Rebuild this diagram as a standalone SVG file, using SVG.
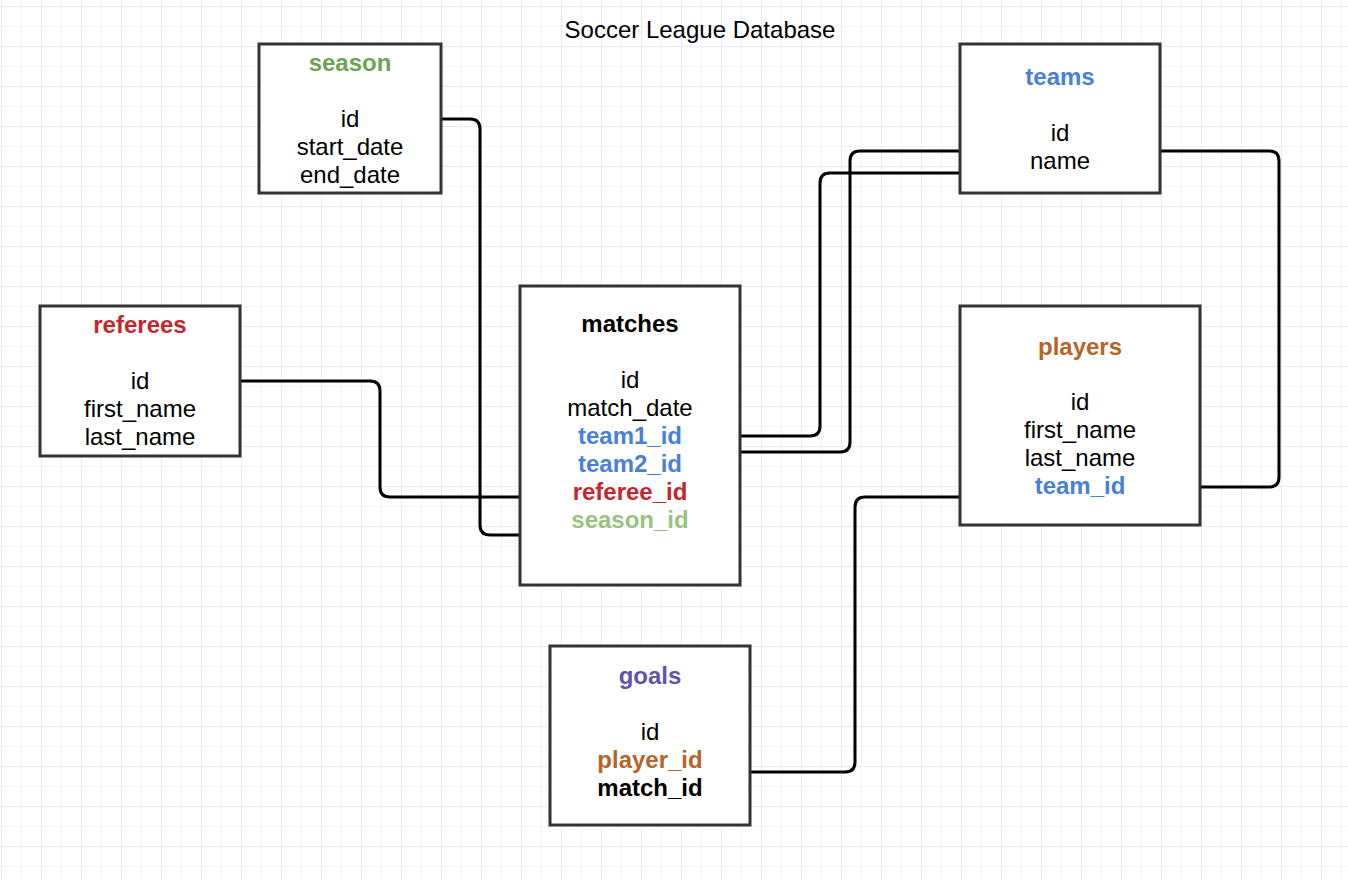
<svg xmlns="http://www.w3.org/2000/svg" width="1348" height="880" viewBox="0 0 1348 880">
<defs>
<pattern id="minor" width="20" height="20" patternUnits="userSpaceOnUse" x="1" y="6">
<path d="M0,0 H20 M0,0 V20" fill="none" stroke="#f0f0fb" stroke-width="1.5"/>
</pattern>
<pattern id="major" width="40" height="40" patternUnits="userSpaceOnUse" x="1" y="6">
<path d="M0,0 H40 M0,0 V40" fill="none" stroke="#e6e6f8" stroke-width="1.5"/>
</pattern>
</defs>
<style>
.box{fill:#fff;stroke:#333;stroke-width:3}
.t{font-family:"Liberation Sans",Arial,sans-serif;font-size:24px;text-anchor:middle;fill:#000}
.b{font-weight:bold}
.green{fill:#6aa355}
.lgreen{fill:#97c27f}
.blue{fill:#4a7fd6}
.red{fill:#c1272d}
.brown{fill:#b5652a}
.purple{fill:#6253a8}
.c{fill:none;stroke:#000;stroke-width:3}
</style>
<rect width="1348" height="880" fill="#fff"/>
<rect width="1348" height="880" fill="url(#minor)"/>
<rect width="1348" height="880" fill="url(#major)"/>
<text class="t" x="700" y="38">Soccer League Database</text>
<g id="connectors">
<path class="c" d="M441,119 H470 Q480,119 480,129 V525 Q480,535 490,535 H519"/>
<path class="c" d="M240,381 H370 Q380,381 380,391 V487 Q380,497 390,497 H519"/>
<path class="c" d="M740,436 H810 Q820,436 820,426 V183 Q820,173 830,173 H960"/>
<path class="c" d="M740,452 H840 Q850,452 850,442 V161 Q850,151 860,151 H960"/>
<path class="c" d="M1160,151 H1269 Q1279,151 1279,161 V477 Q1279,487 1269,487 H1200"/>
<path class="c" d="M750,772 H845 Q855,772 855,762 V507 Q855,497 865,497 H960"/>
</g>
<g id="season">
<rect class="box" x="259" y="44" width="182" height="149"/>
<text class="t b green" x="350" y="71">season</text>
<text class="t" x="350" y="127">id</text>
<text class="t" x="350" y="155">start_date</text>
<text class="t" x="350" y="183">end_date</text>
</g>
<g id="teams">
<rect class="box" x="960" y="44" width="200" height="149"/>
<text class="t b blue" x="1060" y="85">teams</text>
<text class="t" x="1060" y="141">id</text>
<text class="t" x="1060" y="169">name</text>
</g>
<g id="referees">
<rect class="box" x="40" y="306" width="200" height="150"/>
<text class="t b red" x="140" y="333">referees</text>
<text class="t" x="140" y="389">id</text>
<text class="t" x="140" y="417">first_name</text>
<text class="t" x="140" y="445">last_name</text>
</g>
<g id="matches">
<rect class="box" x="520" y="286" width="220" height="299"/>
<text class="t b" x="630" y="332">matches</text>
<text class="t" x="630" y="388">id</text>
<text class="t" x="630" y="416">match_date</text>
<text class="t b blue" x="630" y="444">team1_id</text>
<text class="t b blue" x="630" y="472">team2_id</text>
<text class="t b red" x="630" y="500">referee_id</text>
<text class="t b lgreen" x="630" y="528">season_id</text>
</g>
<g id="players">
<rect class="box" x="960" y="306" width="240" height="219"/>
<text class="t b brown" x="1080" y="355">players</text>
<text class="t" x="1080" y="410">id</text>
<text class="t" x="1080" y="438">first_name</text>
<text class="t" x="1080" y="466">last_name</text>
<text class="t b blue" x="1080" y="494">team_id</text>
</g>
<g id="goals">
<rect class="box" x="550" y="646" width="200" height="179"/>
<text class="t b purple" x="650" y="684">goals</text>
<text class="t" x="650" y="740">id</text>
<text class="t b brown" x="650" y="768">player_id</text>
<text class="t b" x="650" y="796">match_id</text>
</g>
</svg>
